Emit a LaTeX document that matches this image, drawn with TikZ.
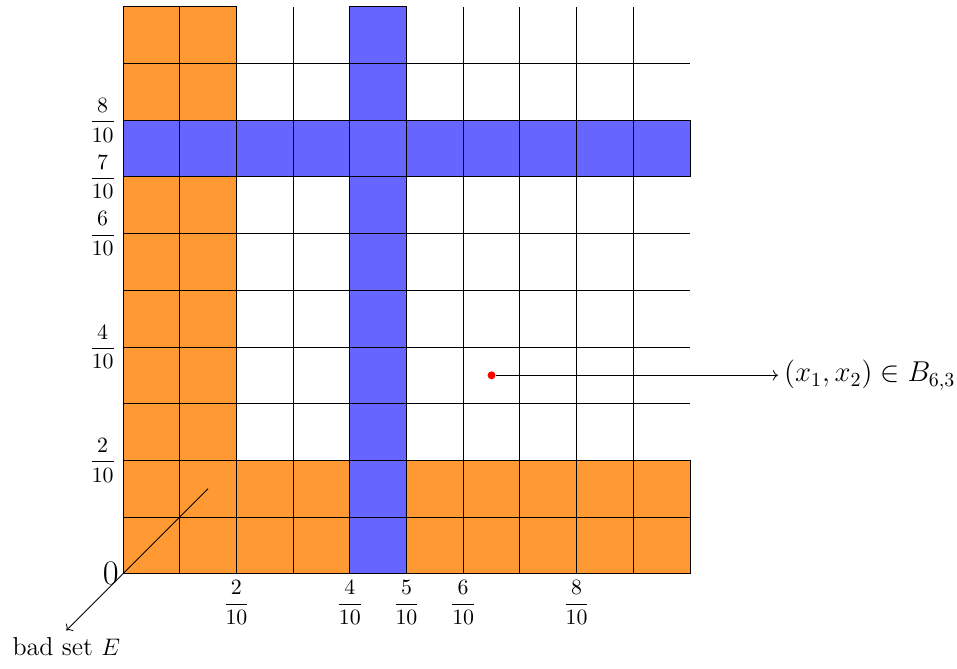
\documentclass[tikz,border=0pt]{standalone}
\usepackage{amsmath,amssymb}
\usetikzlibrary{arrows.meta,positioning}

\begin{document}
\begin{tikzpicture}[
  font=\fontsize{13}{15}\selectfont,
  bad/.style={draw, fill=orange!80},
  cut/.style={draw, fill=blue!60},
  frc/.style={font=\fontsize{11}{13}\selectfont},
  dot/.style={circle, fill=red, inner sep=0pt, minimum size=4pt},
  arr/.style={->, thin}
]
\useasboundingbox (-2.17,-1.675) rectangle (14.71,10.12);
% grid lines
\foreach \i in {0,...,9} {
  \draw (\i,0) -- (\i,10);
  \draw (0,\i) -- (10,\i);
}
% bad strips
\foreach \i in {0,1} {
  \foreach \j in {0,...,9} {
    \draw[bad] (\i,\j) rectangle +(1,1);
    \draw[bad] (\j,\i) rectangle +(1,1);
  }
}
% strips through B
\foreach \j in {0,...,9} {
  \draw[cut] (4,\j) rectangle +(1,1);
  \draw[cut] (\j,7) rectangle +(1,1);
}
% ticks
\node[left, font=\fontsize{16}{18}\selectfont, inner sep=2pt] (zero) at (0,0) {$0$};
\foreach \k in {2,4,6,7,8}
  \node[frc, left] (y\k) at (0,\k) {$\dfrac{\k}{10}$};
\foreach \k in {2,4,5,6,8}
  \node[frc, below] (x\k) at (\k,0) {$\dfrac{\k}{10}$};
% point and labels
\node[dot] (pt) at (6.5,3.5) {};
\node[right, font=\fontsize{14}{16}\selectfont, inner sep=3pt] (lab) at (11.55,3.5) {$(x_1,x_2)\in B_{6,3}$};
\draw[arr] (pt) -- (lab);
\coordinate (Es) at (1.5,1.5);
\node[below] (E) at (-1,-1) {bad set $E$};
\draw[arr] (Es) -- (E.north);
\end{tikzpicture}
\end{document}
